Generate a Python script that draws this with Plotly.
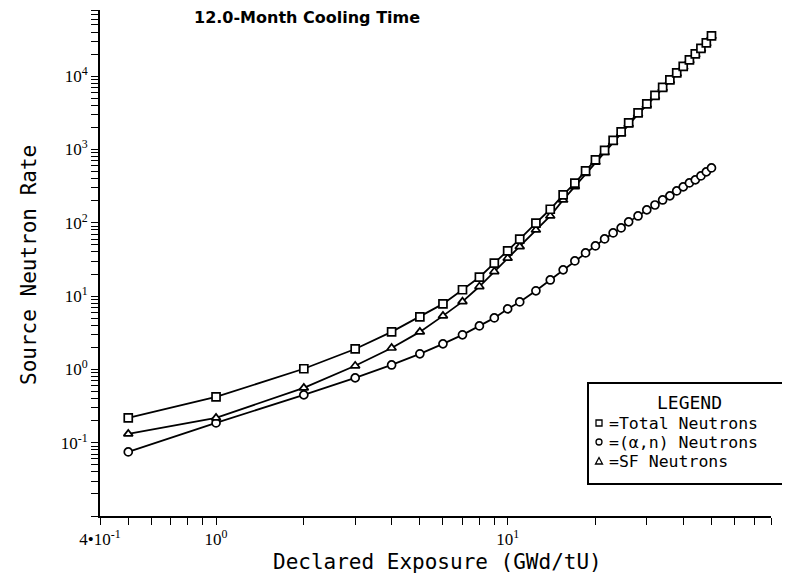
import plotly.graph_objects as go

# ---- data ----
exposure = [0.5, 1, 2, 3, 4, 5, 6, 7, 8, 9, 10, 11, 12.5, 14, 15.5, 17, 18.5, 20,
            21.5, 23, 24.5, 26, 28, 30, 32, 34, 36, 38, 40, 42, 44, 46, 48, 50]
total_neutrons = [0.218, 0.421, 1.02, 1.90, 3.25, 5.20, 7.83, 12.2, 18.1, 28.1, 41.4,
                  59.7, 98.8, 153, 240, 347, 510, 721, 972, 1331, 1738, 2306, 3157,
                  4188, 5470, 7031, 8904, 11100, 13600, 16700, 20100, 23900, 28400, 35500]
alpha_n_neutrons = [0.0749, 0.186, 0.449, 0.766, 1.15, 1.63, 2.23, 2.96, 3.92, 5.04,
                    6.69, 8.33, 11.8, 16.6, 22.8, 30.2, 38.8, 48.4, 60.3, 72.8, 85.2,
                    103, 124, 150, 175, 205, 233, 272, 309, 350, 385, 436, 495, 561]
sf_neutrons = [0.132, 0.218, 0.560, 1.12, 1.96, 3.25, 5.37, 8.41, 13.5, 21.6, 32.9,
               47.3, 80.0, 124, 205, 312, 471, 673, 912, 1258, 1653, 2203, 3033,
               4038, 5295, 6826, 8671, 10830, 13290, 16350, 19720, 23460, 27900, 34940]

x_tickvals = [0.4, 0.5, 0.6, 0.7, 0.8, 0.9, 1, 2, 3, 4, 5, 6, 7, 8, 9, 10,
              20, 30, 40, 50, 60, 70, 80]
x_ticklabels = {0.4: "4•10<sup>-1</sup>", 1: "10<sup>0</sup>", 10: "10<sup>1</sup>"}
y_decades = [-2, -1, 0, 1, 2, 3, 4]
y_labeled = {-1: "10<sup>-1</sup>", 0: "10<sup>0</sup>", 1: "10<sup>1</sup>",
             2: "10<sup>2</sup>", 3: "10<sup>3</sup>", 4: "10<sup>4</sup>"}

title_text = "12.0-Month Cooling Time"
x_title = "Declared Exposure (GWd/tU)"
y_title = "Source Neutron Rate"
legend_title = "LEGEND"
legend_names = ["Total Neutrons", "(α,n) Neutrons", "SF Neutrons"]

# ---- build ticks ----
y_tickvals, y_ticktext = [], []
for d in y_decades:
    for m in range(1, 10):
        v = m * 10 ** d
        if v > 8e4:
            break
        y_tickvals.append(v)
        y_ticktext.append(y_labeled.get(d, "") if m == 1 else "")
x_ticktext = [x_ticklabels.get(v, "") for v in x_tickvals]

# page body has a default margin: lay out in screen pixels, shift by offsets
OFFX, OFFY = 7, 8
W, H = 790 - OFFX, 576 - OFFY
SL, SR, ST, SB = 99, 770, 10, 516          # plot box in screen pixels
L, T = SL - OFFX, ST - OFFY
R, B = W - (SR - OFFX), H - (SB - OFFY)
pw, ph = W - L - R, H - T - B


def px(xs):
    return (xs - OFFX - L) / pw


def py(ys):
    return (H - B - (ys - OFFY)) / ph


line = dict(color="black", width=1.8)
fig = go.Figure()
series = [
    (alpha_n_neutrons, "circle", 8),
    (sf_neutrons, "triangle-up", 8),
    (total_neutrons, "square", 8),
]
for vals, sym, sz in series:
    fig.add_trace(go.Scatter(
        x=exposure, y=vals, mode="lines+markers",
        line=line,
        marker=dict(symbol=sym, size=sz, color="white",
                    line=dict(color="black", width=1.7)),
        showlegend=False,
    ))

tickfont = dict(family="Liberation Serif, DejaVu Serif, serif", size=17, color="black")
fig.update_xaxes(type="log", range=[-0.39794, 1.90309], tickmode="array",
                 tickvals=x_tickvals, ticktext=x_ticktext, ticks="outside",
                 ticklen=7, tickwidth=1.3, tickcolor="black", showline=True,
                 linecolor="black", linewidth=1.7, showgrid=False, zeroline=False,
                 tickfont=tickfont, mirror=False, automargin=False)
fig.update_yaxes(type="log", range=[-2, 4.90309], tickmode="array",
                 tickvals=y_tickvals, ticktext=y_ticktext, ticks="outside",
                 ticklen=7, tickwidth=1.3, tickcolor="black", showline=True,
                 linecolor="black", linewidth=1.7, showgrid=False, zeroline=False,
                 tickfont=tickfont, mirror=False, automargin=False)

sans = "DejaVu Sans, Liberation Sans, sans-serif"
mono = "DejaVu Sans Mono, Liberation Mono, monospace"
ann = []
ann.append(dict(text="<b>" + title_text + "</b>", x=px(306), y=py(17),
                xref="paper", yref="paper", showarrow=False,
                xanchor="center", yanchor="middle",
                font=dict(family=sans, size=16, color="black")))
ann.append(dict(text=x_title, x=px(436), y=py(562), xref="paper", yref="paper",
                showarrow=False, xanchor="center", yanchor="middle",
                font=dict(family=mono, size=21, color="black")))
ann.append(dict(text=y_title, x=px(28), y=py(265), xref="paper", yref="paper",
                showarrow=False, textangle=-90, xanchor="center", yanchor="middle",
                font=dict(family=mono, size=21, color="black")))
# legend
ann.append(dict(text=legend_title, x=px(688), y=py(402), xref="paper", yref="paper",
                showarrow=False, xanchor="center", yanchor="middle",
                font=dict(family=mono, size=18, color="black")))
entry_y = [423, 442, 461]
for name, yy in zip(legend_names, entry_y):
    ann.append(dict(text="=" + name, x=px(606), y=py(yy), xref="paper", yref="paper",
                    xanchor="left", yanchor="middle", showarrow=False,
                    font=dict(family=mono, size=16.5, color="black")))

shapes = []
shapes.append(dict(type="rect", xref="paper", yref="paper",
                   x0=px(587), x1=px(800), y0=py(484), y1=py(383),
                   line=dict(color="black", width=2)))
# legend symbols
mk = dict(color="black", width=1.3)
cx = 598
shapes.append(dict(type="rect", xref="paper", yref="paper",
                   x0=px(cx - 3), x1=px(cx + 3), y0=py(entry_y[0] + 3), y1=py(entry_y[0] - 3),
                   line=mk))
shapes.append(dict(type="circle", xref="paper", yref="paper",
                   x0=px(cx - 3), x1=px(cx + 3), y0=py(entry_y[1] + 3), y1=py(entry_y[1] - 3),
                   line=mk))
ty = entry_y[2]
shapes.append(dict(type="path", xref="paper", yref="paper",
                   path=f"M {px(cx-3.5)},{py(ty+3)} L {px(cx+3.5)},{py(ty+3)} L {px(cx)},{py(ty-3.5)} Z",
                   line=mk))

fig.update_layout(width=W, height=H, autosize=False,
                  margin=dict(l=L, r=R, t=T, b=B),
                  paper_bgcolor="white", plot_bgcolor="white",
                  annotations=ann, shapes=shapes, showlegend=False)

fig.write_html("out.html")
